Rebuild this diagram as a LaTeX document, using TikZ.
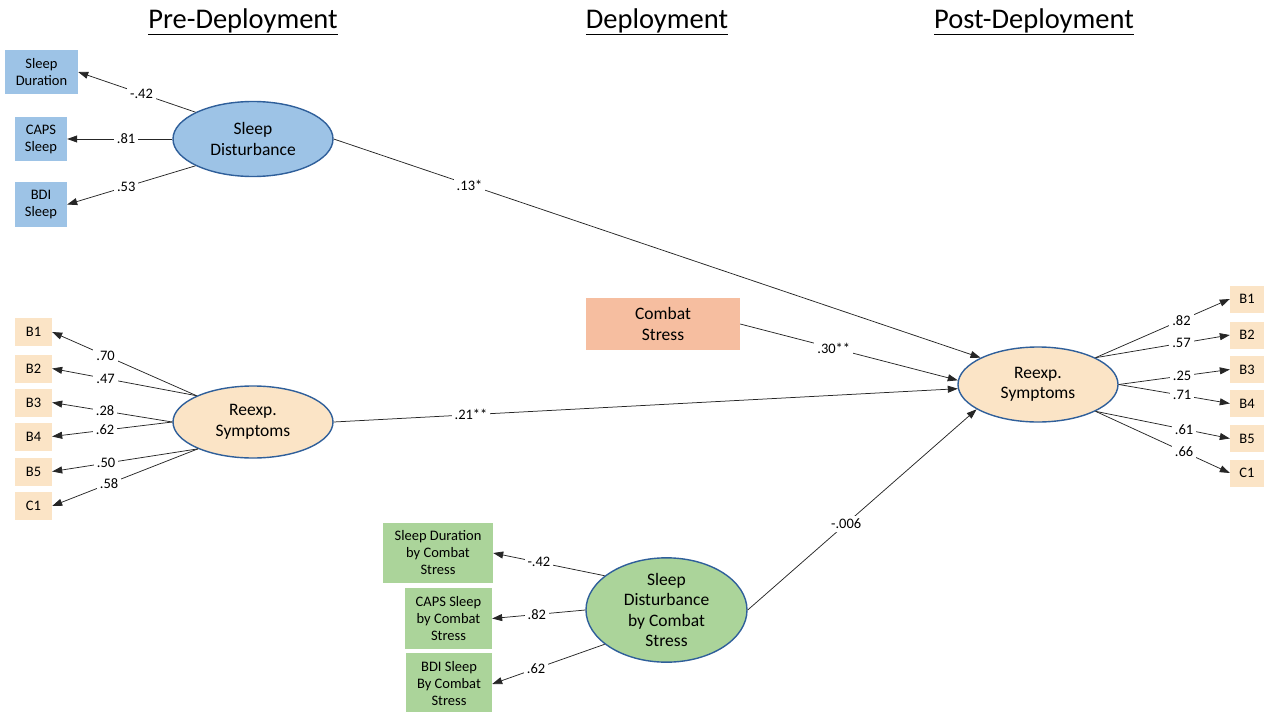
\documentclass[tikz,border=0pt]{standalone}
\usepackage{fontspec}
\setmainfont{Carlito}
\usetikzlibrary{shapes.geometric,arrows.meta}
\definecolor{bluebox}{HTML}{9DC3E6}
\definecolor{tanbox}{HTML}{FBE4C6}
\definecolor{salmon}{HTML}{F6BEA0}
\definecolor{greenbox}{HTML}{ABD49A}
\definecolor{ellborder}{HTML}{2F5F9A}
\tikzset{
  lab/.style={fill=white, inner sep=3pt, font=\fontsize{14.5}{16}\selectfont},
  obs/.style={inner sep=0pt, align=center, font=\fontsize{14.5}{17}\selectfont},
  lat/.style={ellipse, draw=ellborder, line width=1.4pt, inner sep=0pt, align=center, font=\fontsize{17.5}{20.5}\selectfont},
  arr/.style={-{Triangle[length=10pt,width=7pt]}, line width=0.75pt, draw=black!85},
  hdr/.style={font=\fontsize{28.5}{30}\selectfont},
}
\begin{document}
\begin{tikzpicture}[x=1pt,y=-1pt]
\useasboundingbox (0,0) rectangle (1264,712);
% headers
\node[hdr] (hpre) at (243,22) {\underline{Pre-Deployment}};
\node[hdr] (hdep) at (657,22) {\underline{Deployment}};
\node[hdr] (hpost) at (1034,22) {\underline{Post-Deployment}};
% pre: sleep disturbance
\node[obs, fill=bluebox, minimum width=73pt, minimum height=44pt] (sd) at (41.5,72) {Sleep\\Duration};
\node[obs, fill=bluebox, minimum width=52pt, minimum height=44pt] (caps) at (41,139) {CAPS\\Sleep};
\node[obs, fill=bluebox, minimum width=52pt, minimum height=45pt] (bdi) at (41,204.5) {BDI\\Sleep};
\node[lat, fill=bluebox, minimum width=160pt, minimum height=75pt] (SD) at (253,139) {Sleep\\Disturbance};
% pre: reexp
\node[lat, fill=tanbox, minimum width=160pt, minimum height=72pt] (LRS) at (253,422) {Reexp.\\Symptoms};
\foreach \n/\t/\y in {lb1/B1/332, lb2/B2/368.5, lb3/B3/402.5, lb4/B4/436.5, lb5/B5/471.5, lc1/C1/506}
  \node[obs, fill=tanbox, minimum width=37pt, minimum height=28pt] (\n) at (33.5,\y) {\t};
% deployment
\node[obs, fill=salmon, minimum width=154pt, minimum height=52pt, font=\fontsize{17.5}{21}\selectfont] (CS) at (663,324) {Combat\\Stress};
\node[lat, fill=greenbox, minimum width=161pt, minimum height=88pt] (BE) at (666.5,610) {Sleep\\Disturbance\\by Combat\\Stress};
\node[obs, fill=greenbox, minimum width=110pt, minimum height=60pt] (sdc) at (438,553) {Sleep Duration\\by Combat\\Stress};
\node[obs, fill=greenbox, minimum width=87pt, minimum height=61pt] (capsc) at (448.5,618.5) {CAPS Sleep\\by Combat\\Stress};
\node[obs, fill=greenbox, minimum width=86pt, minimum height=62pt] (bdic) at (449,684) {BDI Sleep\\By Combat\\Stress};
% post
\node[lat, fill=tanbox, minimum width=160pt, minimum height=75pt] (RRS) at (1038,384.5) {Reexp.\\Symptoms};
\foreach \n/\t/\y in {rb1/B1/299, rb2/B2/335, rb3/B3/369.5, rb4/B4/403.5, rb5/B5/438.5, rc1/C1/473}
  \node[obs, fill=tanbox, minimum width=34pt, minimum height=27pt] (\n) at (1247,\y) {\t};
% loadings: sleep disturbance
\draw[arr] (SD.155) -- node[lab,pos=0.46]{-.42} (sd.east);
\draw[arr] (SD.west) -- node[lab,pos=0.44]{.81} (caps.east);
\draw[arr] (SD.205) -- node[lab,pos=0.54]{.53} (bdi.east);
% loadings: left reexp
\draw[arr] (LRS.155) -- node[lab,pos=0.63]{.70} (lb1.east);
\draw[arr] (LRS.155) -- node[lab,pos=0.63]{.47} (lb2.east);
\draw[arr] (LRS.west) -- node[lab,pos=0.56]{.28} (lb3.east);
\draw[arr] (LRS.west) -- node[lab,pos=0.56]{.62} (lb4.east);
\draw[arr] (LRS.206) -- node[lab,pos=0.63]{.50} (lb5.east);
\draw[arr] (LRS.206) -- node[lab,pos=0.61]{.58} (lc1.east);
% loadings: right reexp
\draw[arr] (RRS.25) -- node[lab,pos=0.64]{.82} (rb1.west);
\draw[arr] (RRS.25) -- node[lab,pos=0.64]{.57} (rb2.west);
\draw[arr] (RRS.east) -- node[lab,pos=0.57]{.25} (rb3.west);
\draw[arr] (RRS.east) -- node[lab,pos=0.57]{.71} (rb4.west);
\draw[arr] (RRS.335) -- node[lab,pos=0.66]{.61} (rb5.west);
\draw[arr] (RRS.335) -- node[lab,pos=0.66]{.66} (rc1.west);
% loadings: bottom
\draw[arr] (BE.151) -- node[lab,pos=0.59]{-.42} (sdc.east);
\draw[arr] (BE.west) -- node[lab,pos=0.52]{.82} (capsc.east);
\draw[arr] (BE.209) -- node[lab,pos=0.61]{.62} (bdic.east);
% structural paths
\draw[arr] (SD.east) -- node[lab,pos=0.21]{.13*} (RRS.155);
\draw[arr] (CS.east) -- node[lab,pos=0.43]{.30**} (RRS.177);
\draw[arr] (LRS.east) -- node[lab,pos=0.22]{.21**} (RRS.183);
\draw[arr] (BE.east) -- node[lab,pos=0.43]{-.006} (RRS.202);
\end{tikzpicture}
\end{document}
